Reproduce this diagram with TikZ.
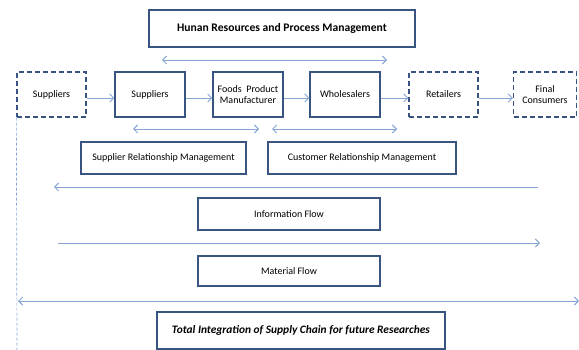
\documentclass[tikz,border=0pt]{standalone}
\usepackage{fontspec}
\setmainfont{Carlito}
\usetikzlibrary{arrows.meta}
\definecolor{boxblue}{RGB}{56,84,128}
\definecolor{flowblue}{RGB}{135,165,212}
\begin{document}
\begin{tikzpicture}[x=1pt, y=-1pt]
        \tikzstyle{frame} = [rectangle, draw=boxblue, line width=1.3pt, text centered, align=center, minimum height=45pt, inner sep=1pt, font=\fontsize{10}{11.5}\selectfont]
        \tikzstyle{dframe} = [frame, dashed, dash pattern=on 5pt off 3pt]
        \tikzstyle{line} = [draw=flowblue, line width=0.9pt, -{Straight Barb[length=4pt,width=8pt]}]
        \tikzstyle{dline} = [line, {Straight Barb[length=4pt,width=8pt]}-{Straight Barb[length=4pt,width=8pt]}]
        \useasboundingbox (0,0) rectangle (579,350);
        \node [frame, minimum width=266pt, minimum height=37pt, font=\fontsize{11.6}{14}\selectfont\bfseries] (hrpm) at (282,28.5) {Hunan Resources and Process Management};
        \node [dframe, minimum width=69pt] (supout) at (51.5,94.5) {Suppliers};
        \node [frame, minimum width=70pt] (sup) at (150,94.5) {Suppliers};
        \node [frame, minimum width=70pt] (fpm) at (248,94.5) {Foods~~Product\\Manufacturer};
        \node [frame, minimum width=70pt] (whs) at (345,94.5) {Wholesalers};
        \node [dframe, minimum width=69pt] (ret) at (443.5,94.5) {Retailers};
        \node [dframe, minimum width=63pt] (cons) at (545,94.5) {Final\\Consumers};
        \node [frame, minimum width=165pt, minimum height=32pt] (srm) at (163.5,158) {Supplier Relationship Management};
        \node [frame, minimum width=188pt, minimum height=32pt] (crm) at (362,158) {Customer Relationship Management};
        \node [frame, minimum width=182pt, minimum height=32pt] (info) at (289,214) {Information Flow};
        \node [frame, minimum width=182pt, minimum height=30pt] (mat) at (289,271) {Material Flow};
        \node [frame, minimum width=288pt, minimum height=37pt, font=\fontsize{11.4}{13}\selectfont\bfseries\itshape] (tot) at (301,330.5) {Total Integration of Supply Chain for future Researches};
        % free ends of the flow arrows
        \coordinate (hrL) at (162,60);
        \coordinate (hrR) at (387,60);
        \coordinate (srmL) at (133,129);
        \coordinate (srmR) at (259,129);
        \coordinate (crmL) at (272,129);
        \coordinate (crmR) at (397,129);
        \coordinate (infoR) at (538,187);
        \coordinate (infoL) at (54,187);
        \coordinate (matL) at (58,243);
        \coordinate (matR) at (540,243);
        \coordinate (totL) at (18,301);
        \coordinate (totR) at (579,301);
        \coordinate (edge) at (17,350);
        \path [line] ([yshift=-3.5pt]supout.east) -- ([yshift=-3.5pt]sup.west);
        \path [line] ([yshift=-3.5pt]sup.east) -- ([yshift=-3.5pt]fpm.west);
        \path [line] ([yshift=-3.5pt]fpm.east) -- ([yshift=-3.5pt]whs.west);
        \path [line] ([yshift=-3.5pt]whs.east) -- ([yshift=-3.5pt]ret.west);
        \path [line] ([yshift=-3.5pt]ret.east) -- ([yshift=-3.5pt]cons.west);
        \path [dline] (hrL) -- (hrR);
        \path [dline] (srmL) -- (srmR);
        \path [dline] (crmL) -- (crmR);
        \path [line] (infoR) -- (infoL);
        \path [line] (matL) -- (matR);
        \path [dline] (totL) -- (totR);
        \draw [flowblue, line width=0.7pt, dash pattern=on 3pt off 2pt] (supout.south west) -- (edge);
    \end{tikzpicture}
\end{document}
